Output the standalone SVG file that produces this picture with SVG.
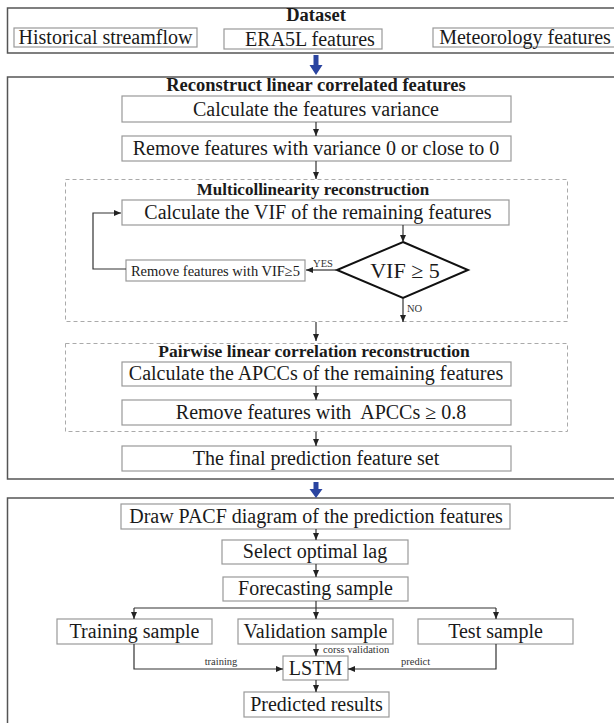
<svg xmlns="http://www.w3.org/2000/svg" width="614" height="723" viewBox="0 0 614 723">
<style>
.big{fill:#fff;stroke:#555;stroke-width:1.5}
.box{fill:#fff;stroke:#999;stroke-width:1.2}
.dash{fill:none;stroke:#aaa;stroke-width:1;stroke-dasharray:4 3}
.t{font-family:"Liberation Serif","Times New Roman",serif;font-size:20px;fill:#1a1a1a;text-anchor:middle}
.h{font-weight:bold;font-size:18.5px}
.m{font-weight:bold;font-size:17px}
.s{font-size:10.5px;fill:#333}
.ln{stroke:#333;stroke-width:1.2;fill:none}
.blue{fill:#2a44a0}
</style>
<defs>
<marker id="ah" markerWidth="7" markerHeight="6" refX="7" refY="3" orient="auto" markerUnits="userSpaceOnUse">
<path d="M0,0 L7,3 L0,6 Z" fill="#222"/>
</marker>
</defs>
<rect width="614" height="723" fill="#fff"/>

<g id="dataset">
<rect class="big" x="7.5" y="8" width="620" height="45"/>
<text class="t h" x="316" y="21">Dataset</text>
<g id="hist"><rect class="box" x="14" y="28" width="183" height="19"/><text class="t" x="105.5" y="44">Historical streamflow</text></g>
<g id="era5l"><rect class="box" x="224" y="29" width="158" height="20"/><text class="t" x="310" y="46">ERA5L features</text></g>
<g id="meteo"><rect class="box" x="433" y="28" width="190" height="19"/><text class="t" x="525" y="44">Meteorology features</text></g>
</g>

<g id="reconstruct">
<rect class="big" x="7.5" y="77" width="620" height="402"/>
<text class="t h" x="316" y="91">Reconstruct linear correlated features</text>
</g>
<g id="calcvar"><rect class="box" x="122" y="96" width="389" height="26"/><text class="t" x="316" y="116">Calculate the features variance</text></g>
<g id="remvar"><rect class="box" x="122" y="136" width="389" height="25"/><text class="t" x="316" y="155">Remove features with variance 0 or close to 0</text></g>

<g id="multi">
<rect class="dash" x="65.5" y="179.5" width="502" height="142"/>
<text class="t m" x="313" y="195">Multicollinearity reconstruction</text>
</g>
<g id="calcvif"><rect class="box" x="122" y="200" width="387" height="25"/><text class="t" x="318" y="219">Calculate the VIF of the remaining features</text></g>
<g id="diamond"><polygon points="403,242 468,270 403,298 337,270" fill="#fff" stroke="#111" stroke-width="2"/><text class="t" x="405" y="278" style="font-size:22px">VIF ≥ 5</text></g>
<g id="remvif"><rect class="box" x="126" y="260" width="179" height="21"/><text class="t" x="215.5" y="276" style="font-size:14.5px">Remove features with VIF≥5</text></g>

<g id="pairwise">
<rect class="dash" x="65.5" y="343.5" width="502" height="88"/>
<text class="t m" x="314" y="357" style="font-size:17.5px">Pairwise linear correlation reconstruction</text>
</g>
<g id="calcapcc"><rect class="box" x="122" y="362" width="389" height="24"/><text class="t" x="316" y="380">Calculate the APCCs of the remaining features</text></g>
<g id="remapcc"><rect class="box" x="122" y="400" width="389" height="25"/><text class="t" x="321" y="419" style="white-space:pre">Remove features with  APCCs ≥ 0.8</text></g>
<g id="final"><rect class="box" x="122" y="446" width="389" height="25"/><text class="t" x="316" y="465">The final prediction feature set</text></g>

<g id="forecast">
<rect class="big" x="7.5" y="498" width="620" height="240"/>
</g>
<g id="pacf"><rect class="box" x="121" y="504" width="389" height="25"/><text class="t" x="316" y="523">Draw PACF diagram of the prediction features</text></g>
<g id="lag"><rect class="box" x="222" y="540" width="186" height="24"/><text class="t" x="315" y="558">Select optimal lag</text></g>
<g id="fsample"><rect class="box" x="223" y="577" width="185" height="24"/><text class="t" x="315.5" y="595">Forecasting sample</text></g>
<g id="train"><rect class="box" x="57" y="619" width="155" height="25"/><text class="t" x="134.5" y="638">Training sample</text></g>
<g id="valid"><rect class="box" x="238" y="619" width="155" height="25"/><text class="t" x="315.5" y="638">Validation sample</text></g>
<g id="test"><rect class="box" x="418" y="619" width="155" height="25"/><text class="t" x="495.5" y="638">Test sample</text></g>
<g id="lstm"><rect class="box" x="283" y="656" width="65" height="24"/><text class="t" x="315.5" y="675">LSTM</text></g>
<g id="pred"><rect class="box" x="244" y="692" width="145" height="25"/><text class="t" x="316.5" y="711">Predicted results</text></g>

<g id="connectors">
<polygon class="blue" points="313.5,55 318.5,55 318.5,65 322.5,65 316,75 309.5,65 313.5,65"/>
<polygon class="blue" points="313.5,482 318.5,482 318.5,489 322.5,489 316,498 309.5,489 313.5,489"/>
<line class="ln" x1="316" y1="122" x2="316" y2="136" marker-end="url(#ah)"/>
<line class="ln" x1="316" y1="161" x2="316" y2="179" marker-end="url(#ah)"/>
<line class="ln" x1="403" y1="225" x2="403" y2="242" marker-end="url(#ah)"/>
<line class="ln" x1="337" y1="270" x2="306" y2="270" marker-end="url(#ah)"/>
<polyline class="ln" points="126,269 93,269 93,213 121,213" marker-end="url(#ah)"/>
<line class="ln" x1="403" y1="298" x2="403" y2="322" marker-end="url(#ah)"/>
<line class="ln" x1="316" y1="322" x2="316" y2="341" marker-end="url(#ah)"/>
<line class="ln" x1="316" y1="386" x2="316" y2="400" marker-end="url(#ah)"/>
<line class="ln" x1="316" y1="432" x2="316" y2="446" marker-end="url(#ah)"/>
<line class="ln" x1="316" y1="529" x2="316" y2="540" marker-end="url(#ah)"/>
<line class="ln" x1="316" y1="564" x2="316" y2="577" marker-end="url(#ah)"/>
<line class="ln" x1="316" y1="601" x2="316" y2="608"/>
<line class="ln" x1="134" y1="608" x2="496" y2="608"/>
<line class="ln" x1="134" y1="608" x2="134" y2="619" marker-end="url(#ah)"/>
<line class="ln" x1="316" y1="608" x2="316" y2="619" marker-end="url(#ah)"/>
<line class="ln" x1="496" y1="608" x2="496" y2="619" marker-end="url(#ah)"/>
<line class="ln" x1="316" y1="644" x2="316" y2="656" marker-end="url(#ah)"/>
<polyline class="ln" points="134,644 134,669 283,669" marker-end="url(#ah)"/>
<polyline class="ln" points="496,644 496,669 348,669" marker-end="url(#ah)"/>
<line class="ln" x1="316" y1="680" x2="316" y2="692" marker-end="url(#ah)"/>
<text class="t s" x="323" y="267">YES</text>
<text class="t s" x="407" y="312" style="text-anchor:start">NO</text>
<text class="t s" x="323" y="653" style="text-anchor:start">corss validation</text>
<text class="t s" x="221" y="665">training</text>
<text class="t s" x="401" y="665" style="text-anchor:start">predict</text>
</g>
</svg>
